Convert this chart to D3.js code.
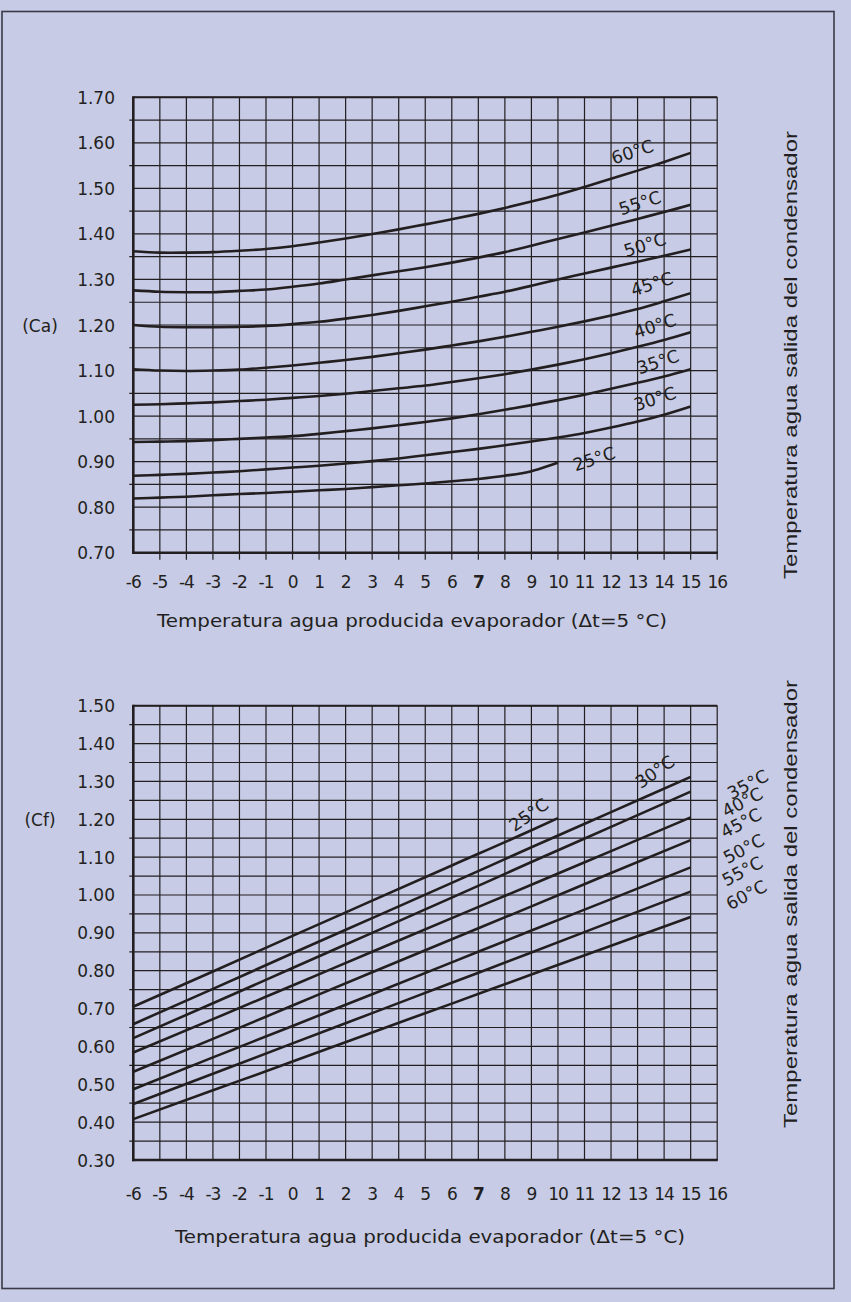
<!DOCTYPE html>
<html>
<head>
<meta charset="utf-8">
<script src="https://cdn.jsdelivr.net/npm/d3@7"></script>
<style>
  html, body { margin: 0; padding: 0; background: #c7cbe5; }
  svg { display: block; }
</style>
</head>
<body>
<div id="chart"></div>
<script>
// Evaporator water temperature (x) tick labels
const xTickLabels = [-6, -5, -4, -3, -2, -1, 0, 1, 2, 3, 4, 5, 6, 7, 8, 9, 10, 11, 12, 13, 14, 15, 16];

// Ca (top chart) tick labels
const caTicks = [0.70, 0.80, 0.90, 1.00, 1.10, 1.20, 1.30, 1.40, 1.50, 1.60, 1.70];
// Cf (bottom chart) tick labels
const cfTicks = [0.30, 0.40, 0.50, 0.60, 0.70, 0.80, 0.90, 1.00, 1.10, 1.20, 1.30, 1.40, 1.50];

// Condenser outlet temperatures (series names)
const condTemps = ['25°C', '30°C', '35°C', '40°C', '45°C', '50°C', '55°C', '60°C'];

// Ca curves, read at each degree
const caX = [-6, -5, -4, -3, -2, -1, 0, 1, 2, 3, 4, 5, 6, 7, 8, 9, 10, 11, 12, 13, 14, 15];
const caX25 = [-6, -5, -4, -3, -2, -1, 0, 1, 2, 3, 4, 5, 6, 7, 8, 9, 10];
const ca60 = [1.362, 1.359, 1.359, 1.360, 1.363, 1.367, 1.373, 1.381, 1.390, 1.400, 1.410, 1.421, 1.432, 1.444, 1.457, 1.471, 1.486, 1.503, 1.521, 1.539, 1.558, 1.578];
const ca55 = [1.276, 1.273, 1.272, 1.272, 1.275, 1.278, 1.284, 1.291, 1.300, 1.309, 1.318, 1.327, 1.337, 1.348, 1.360, 1.374, 1.389, 1.403, 1.418, 1.433, 1.448, 1.464];
const ca50 = [1.200, 1.196, 1.195, 1.195, 1.196, 1.198, 1.202, 1.207, 1.214, 1.222, 1.231, 1.241, 1.251, 1.262, 1.273, 1.286, 1.300, 1.313, 1.326, 1.339, 1.352, 1.366];
const ca45 = [1.103, 1.100, 1.099, 1.100, 1.102, 1.106, 1.111, 1.117, 1.123, 1.130, 1.138, 1.146, 1.155, 1.164, 1.174, 1.185, 1.196, 1.208, 1.221, 1.235, 1.252, 1.270];
const ca40 = [1.025, 1.026, 1.028, 1.030, 1.033, 1.036, 1.040, 1.044, 1.049, 1.055, 1.061, 1.067, 1.075, 1.083, 1.092, 1.102, 1.113, 1.125, 1.138, 1.152, 1.167, 1.184];
const ca35 = [0.943, 0.944, 0.945, 0.947, 0.950, 0.953, 0.956, 0.961, 0.967, 0.973, 0.980, 0.987, 0.995, 1.004, 1.014, 1.024, 1.035, 1.047, 1.060, 1.073, 1.087, 1.103];
const ca30 = [0.869, 0.871, 0.873, 0.876, 0.879, 0.883, 0.887, 0.891, 0.896, 0.901, 0.907, 0.914, 0.921, 0.928, 0.936, 0.944, 0.953, 0.963, 0.975, 0.988, 1.003, 1.021];
const ca25 = [0.819, 0.821, 0.823, 0.826, 0.829, 0.831, 0.834, 0.837, 0.840, 0.844, 0.848, 0.852, 0.857, 0.862, 0.869, 0.879, 0.898];

// Cf lines, read every 3 degrees
const cfX = [-6, -3, 0, 3, 6, 9, 12, 15];
const cfX25 = [-6, -3, 0, 3, 6, 9, 10];
const cf25 = [0.705, 0.798, 0.892, 0.985, 1.078, 1.171, 1.203];
const cf30 = [0.659, 0.752, 0.846, 0.939, 1.032, 1.126, 1.219, 1.312];
const cf35 = [0.622, 0.714, 0.807, 0.900, 0.993, 1.087, 1.180, 1.273];
const cf40 = [0.584, 0.672, 0.761, 0.850, 0.939, 1.027, 1.116, 1.205];
const cf45 = [0.533, 0.620, 0.708, 0.796, 0.883, 0.970, 1.058, 1.145];
const cf50 = [0.487, 0.571, 0.654, 0.738, 0.822, 0.906, 0.989, 1.073];
const cf55 = [0.448, 0.528, 0.608, 0.688, 0.768, 0.848, 0.929, 1.009];
const cf60 = [0.408, 0.484, 0.560, 0.637, 0.713, 0.790, 0.866, 0.942];

const caSeries = [
  { name: condTemps[0], xs: caX25, ys: ca25 },
  { name: condTemps[1], xs: caX, ys: ca30 },
  { name: condTemps[2], xs: caX, ys: ca35 },
  { name: condTemps[3], xs: caX, ys: ca40 },
  { name: condTemps[4], xs: caX, ys: ca45 },
  { name: condTemps[5], xs: caX, ys: ca50 },
  { name: condTemps[6], xs: caX, ys: ca55 },
  { name: condTemps[7], xs: caX, ys: ca60 }
];
const cfSeries = [
  { name: condTemps[0], xs: cfX25, ys: cf25 },
  { name: condTemps[1], xs: cfX, ys: cf30 },
  { name: condTemps[2], xs: cfX, ys: cf35 },
  { name: condTemps[3], xs: cfX, ys: cf40 },
  { name: condTemps[4], xs: cfX, ys: cf45 },
  { name: condTemps[5], xs: cfX, ys: cf50 },
  { name: condTemps[6], xs: cfX, ys: cf55 },
  { name: condTemps[7], xs: cfX, ys: cf60 }
];

// label placement in data units [x, value] (layout only)
const caLabelPos = [[11.36, 0.906], [13.65, 1.038], [13.77, 1.119], [13.65, 1.198], [13.54, 1.290], [13.28, 1.376], [13.09, 1.468], [12.81, 1.580]];
const cfLabelPos = [[8.9, 1.212], [13.65, 1.325], [17.15, 1.292], [16.95, 1.245], [16.9, 1.19], [17.0, 1.122], [16.95, 1.063], [17.1, 1.0]];

const W = 851, H = 1302;
const bg = '#c7cbe5', ink = '#231f20';
const digitFont = '"DejaVu Sans", sans-serif';
const sideFont = '"Liberation Sans", Arial, sans-serif';

const svg = d3.select('#chart').append('svg')
  .attr('width', W).attr('height', H);

svg.append('rect').attr('width', W).attr('height', H).attr('fill', bg);
svg.append('rect')
  .attr('x', 2).attr('y', 11.5).attr('width', 832).attr('height', 1277)
  .attr('fill', 'none').attr('stroke', '#3a3a46').attr('stroke-width', 1.6);

const x = d3.scaleLinear().domain([-6, 16]).range([133.3, 717.2]);

function drawChart(opts) {
  const y = d3.scaleLinear().domain(opts.domain).range(opts.range);
  const g = svg.append('g');
  const top = opts.range[1], bottom = opts.range[0];
  const xEnd = x(16);

  // horizontal grid every 0.05
  const nH = Math.round((opts.domain[1] - opts.domain[0]) / 0.05);
  const hVals = d3.range(0, nH + 1).map(i => opts.domain[0] + i * 0.05);
  g.selectAll('.hgrid').data(hVals).enter().append('line')
    .attr('x1', (d, i) => (i % 2 === 1 ? x(-6) - 4 : x(-6)))
    .attr('x2', xEnd)
    .attr('y1', d => y(d)).attr('y2', d => y(d))
    .attr('stroke', ink).attr('stroke-width', 1.2);

  // vertical grid at each degree
  g.selectAll('.vgrid').data(xTickLabels.slice(1)).enter().append('line')
    .attr('x1', d => x(d)).attr('x2', d => x(d))
    .attr('y1', top).attr('y2', bottom + opts.tickDown)
    .attr('stroke', ink).attr('stroke-width', 1.2);

  // top border and axes
  g.append('line').attr('x1', x(-6)).attr('x2', xEnd).attr('y1', top).attr('y2', top)
    .attr('stroke', ink).attr('stroke-width', 2);
  g.append('line').attr('x1', x(-6) - 1.3).attr('x2', xEnd + 0.6).attr('y1', bottom).attr('y2', bottom)
    .attr('stroke', ink).attr('stroke-width', 2.6);
  g.append('line').attr('x1', x(-6)).attr('x2', x(-6)).attr('y1', top - 1).attr('y2', bottom + 1.3)
    .attr('stroke', ink).attr('stroke-width', 2.6);

  // y tick labels
  g.selectAll('.ylab').data(opts.ticks).enter().append('text')
    .attr('x', 115).attr('y', d => y(d) + 6.5)
    .attr('text-anchor', 'end')
    .style('font-family', digitFont).style('font-size', '17px').attr('fill', ink)
    .text(d => d.toFixed(2));

  // x tick labels
  g.selectAll('.xlab').data(xTickLabels).enter().append('text')
    .attr('x', d => x(d)).attr('y', opts.xLabelY)
    .attr('text-anchor', 'middle')
    .style('font-family', digitFont).style('font-size', '17px')
    .style('font-weight', d => d === 7 ? 'bold' : 'normal')
    .style('letter-spacing', '-1px')
    .attr('fill', ink)
    .text(d => d);

  // x axis title
  g.append('text')
    .attr('x', opts.titleX).attr('y', opts.titleY)
    .attr('text-anchor', 'middle')
    .attr('textLength', 510).attr('lengthAdjust', 'spacingAndGlyphs')
    .style('font-family', digitFont).style('font-size', '17px').attr('fill', ink)
    .text('Temperatura agua producida evaporador (\u0394t=5 °C)');

  // coefficient name
  g.append('text')
    .attr('x', 40).attr('y', y(opts.nameAt) + 6.5)
    .attr('text-anchor', 'middle')
    .style('font-family', digitFont).style('font-size', '17px').attr('fill', ink)
    .text(opts.name);

  // side title
  g.append('text')
    .attr('transform', `translate(797,${opts.sideY}) rotate(-90)`)
    .attr('text-anchor', 'middle')
    .attr('textLength', 448).attr('lengthAdjust', 'spacingAndGlyphs')
    .style('font-family', sideFont).style('font-size', '18px').attr('fill', ink)
    .text('Temperatura agua salida del condensador');

  // curves
  const line = d3.line()
    .x(d => x(d[0])).y(d => y(d[1]))
    .curve(opts.curve);
  g.selectAll('.curve').data(opts.series).enter().append('path')
    .attr('d', s => line(s.xs.map((v, i) => [v, s.ys[i]])))
    .attr('fill', 'none').attr('stroke', ink).attr('stroke-width', 2.6)
    .attr('stroke-linecap', 'butt');

  // curve labels
  g.selectAll('.clab').data(opts.series).enter().append('text')
    .attr('transform', (s, i) => `translate(${x(opts.labelPos[i][0])},${y(opts.labelPos[i][1])}) rotate(${opts.labelRot[i]})`)
    .attr('text-anchor', 'middle').attr('dy', '0.35em')
    .style('font-family', digitFont).style('font-size', '17.5px').attr('fill', ink)
    .text(s => s.name);
}

drawChart({
  domain: [0.7, 1.7], range: [552.7, 97.3], ticks: caTicks,
  tickDown: 7, xLabelY: 588, titleX: 412, titleY: 627,
  name: '(Ca)', nameAt: 1.20, sideY: 355,
  series: caSeries, curve: d3.curveCatmullRom.alpha(0.5),
  labelPos: caLabelPos, labelRot: [-18, -18, -18, -18, -18, -18, -18, -18]
});

drawChart({
  domain: [0.3, 1.5], range: [1160, 705.7], ticks: cfTicks,
  tickDown: 0, xLabelY: 1200, titleX: 430, titleY: 1243,
  name: '(Cf)', nameAt: 1.20, sideY: 904,
  series: cfSeries, curve: d3.curveMonotoneX,
  labelPos: cfLabelPos, labelRot: [-35, -35, -28, -28, -28, -28, -28, -28]
});
</script>
</body>
</html>
